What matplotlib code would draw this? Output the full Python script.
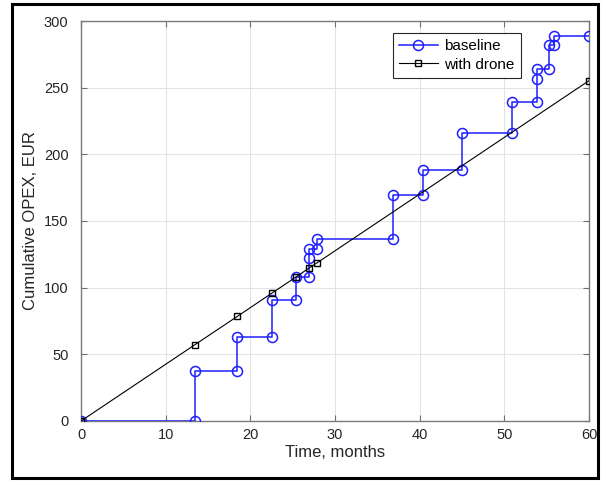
# Cumulative OPEX over time, baseline vs. with drone

import matplotlib
matplotlib.use('Agg')
from matplotlib import pyplot as plt
from matplotlib.patches import Rectangle

plt.rcParams['font.family'] = ['Liberation Sans', 'DejaVu Sans']

# baseline (step-wise, a marker at every vertex)
base_t = [0, 13.45, 13.45, 18.45, 18.45, 22.5, 22.5, 25.4, 25.4, 26.9, 26.9, 26.9,
          27.9, 27.9, 36.85, 36.85, 40.35, 40.35, 45.0, 45.0, 50.85, 50.85,
          53.85, 53.85, 53.85, 55.3, 55.3, 55.85, 55.85, 60]
base_cost = [0, 0, 37.75, 37.75, 63.25, 63.25, 90.5, 90.5, 108, 108, 122.25, 129.25,
             129.25, 136.75, 136.75, 169.75, 169.75, 188, 188, 216.25, 216.25, 239.25,
             239.25, 256.75, 263.75, 263.75, 282.25, 282.25, 288.75, 288.75]

# with drone
drone_t = [0, 13.45, 18.45, 22.5, 25.4, 26.9, 27.9, 60]
drone_cost = [0, 57.2, 78.4, 95.7, 108.0, 114.6, 118.7, 255.25]

xticks = [0, 10, 20, 30, 40, 50, 60]
yticks = [0, 50, 100, 150, 200, 250, 300]

fig = plt.figure(figsize=(6.11, 4.83), dpi=100)
ax = fig.add_axes([0.1326, 0.1284, 0.8314, 0.8281])

ax.plot(base_t, base_cost, '-o', color='#1f1fff', lw=1.1, ms=7.2,
        mfc='none', mew=1.1, label='baseline', zorder=3)
ax.plot(drone_t, drone_cost, '-s', color='black', lw=0.8, ms=5,
        mfc='none', mew=1.0, label='with drone', zorder=4)

ax.set_xlim(0, 60)
ax.set_ylim(0, 300)
ax.set_xticks(xticks)
ax.set_yticks(yticks)
ax.grid(True, color='#e3e3e3', lw=0.8)
ax.set_axisbelow(True)
ax.tick_params(direction='in', length=4, top=True, right=True, labelsize=10.5,
               colors='#6e6e6e', labelcolor='#262626')
ax.tick_params(axis='y', pad=9)
ax.tick_params(axis='x', pad=5)
for s in ax.spines.values():
    s.set_color('#7a7a7a')
    s.set_linewidth(1.0)

ax.set_xlabel('Time, months', fontsize=12, color='#262626', labelpad=2)
ax.set_ylabel('Cumulative OPEX, EUR', fontsize=12, color='#262626', labelpad=4)

leg = ax.legend(loc='upper right', bbox_to_anchor=(0.866, 0.97), fontsize=11,
                fancybox=False, framealpha=1, edgecolor='#262626',
                handlelength=2.6, borderpad=0.4, labelspacing=0.3,
                handletextpad=0.4, borderaxespad=0)
leg.get_frame().set_linewidth(0.8)

# black frame round the whole picture
fig.patches.append(Rectangle((0.0196, 0.0104), 0.9591, 0.9813, transform=fig.transFigure,
                             fill=False, ec='black', lw=2.2))

plt.savefig('out.png', dpi=100)
